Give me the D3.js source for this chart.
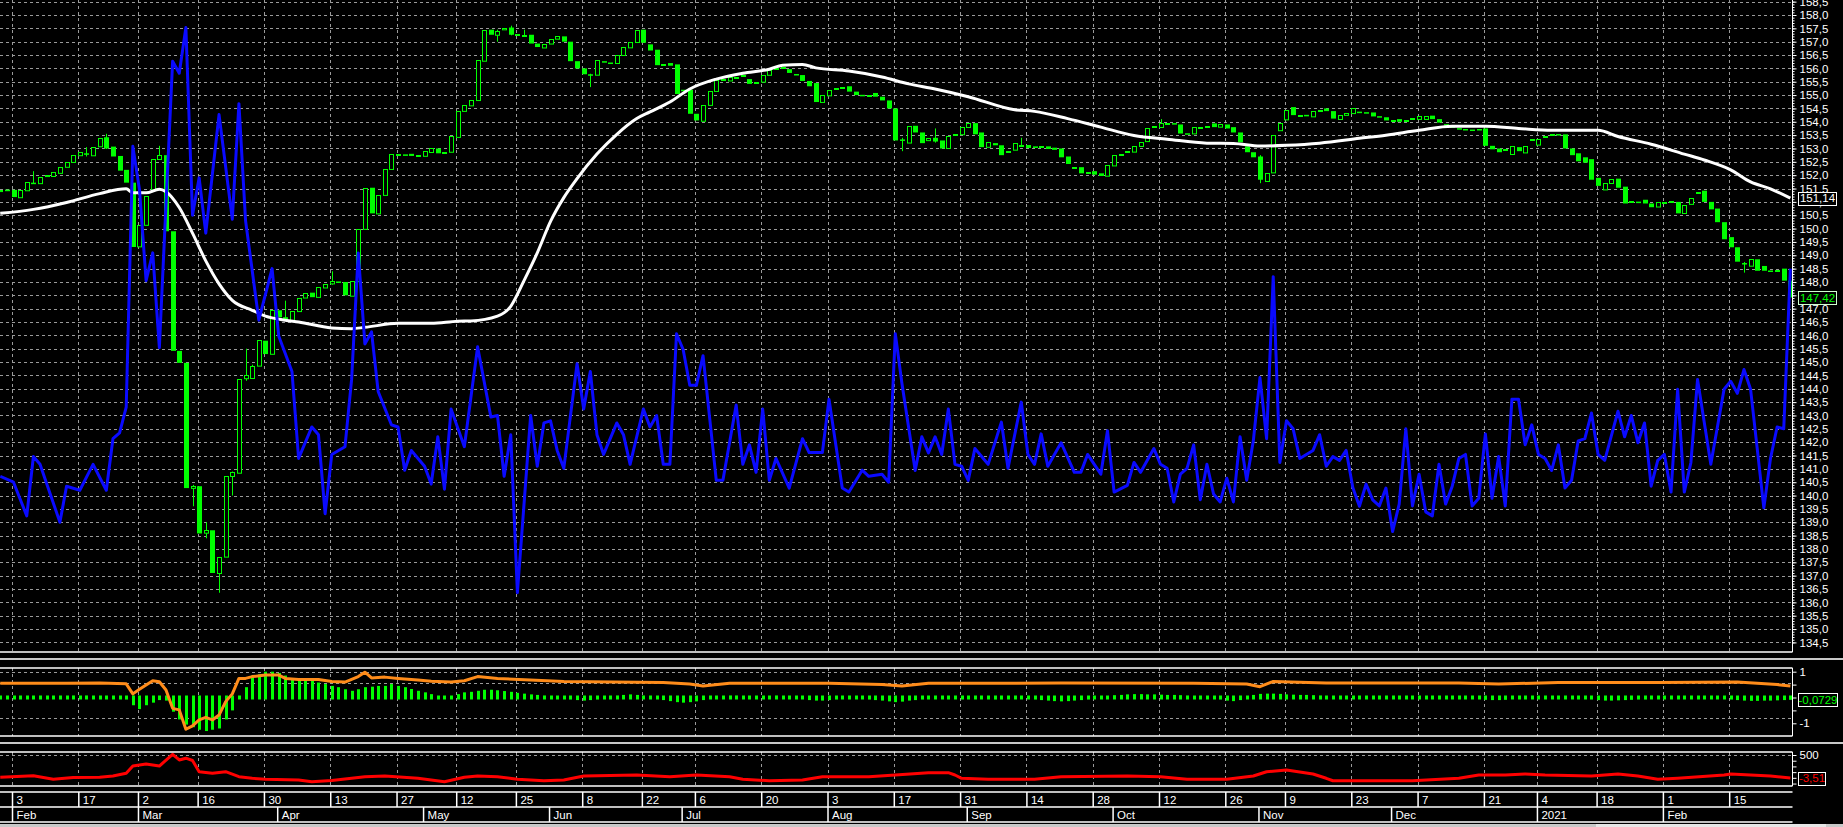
<!DOCTYPE html>
<html><head><meta charset="utf-8">
<script src="https://cdn.jsdelivr.net/npm/d3@7"></script>
<style>html,body{margin:0;padding:0;background:#000;overflow:hidden}</style>
</head><body>
<svg id="c" width="1843" height="827"></svg>
<script>
// ---------------- DATA ----------------
const opens = [151.42,151.46,151.45,151.18,151.45,151.72,151.70,151.96,151.98,152.10,
152.32,152.50,152.76,152.82,152.76,153.07,153.42,153.07,152.72,152.20,
151.72,149.35,150.15,151.46,152.60,152.75,149.90,145.42,144.97,140.28,
140.35,138.60,138.70,137.10,137.70,140.72,140.87,144.38,144.42,144.87,
145.80,145.30,146.94,146.68,146.55,146.90,147.43,147.60,147.43,147.80,
147.93,148.02,148.00,147.50,148.05,150.00,151.53,150.57,151.26,152.23,
152.79,152.78,152.80,152.72,152.72,152.85,153.00,152.84,152.86,153.45,
154.42,154.60,154.80,156.30,157.45,157.26,157.45,157.53,157.26,157.25,
157.26,156.93,156.80,156.93,157.10,157.20,157.00,156.27,156.00,155.78,
155.75,156.27,156.22,156.20,156.50,156.80,157.00,157.45,156.90,156.70,
156.14,156.20,156.15,155.20,155.20,154.30,154.05,154.64,155.16,155.58,
155.55,155.68,155.74,155.60,155.48,155.50,155.75,155.98,156.04,155.97,
155.79,155.75,155.53,155.45,154.74,155.00,155.27,155.29,155.33,155.13,
155.01,154.99,155.08,154.94,154.80,154.50,153.34,153.23,153.85,153.60,
153.30,153.40,153.30,153.00,153.52,153.53,153.80,153.95,153.60,153.05,
153.20,153.12,152.89,152.95,153.12,153.13,153.08,153.07,153.08,153.03,
153.00,152.70,152.29,152.30,152.11,152.15,152.07,151.97,152.37,152.79,
152.89,152.87,153.08,153.26,153.84,153.82,153.93,153.95,153.90,153.57,
153.56,153.79,153.84,153.94,153.80,153.90,153.80,153.60,153.08,152.86,
152.70,151.80,152.10,153.70,154.10,154.55,154.26,154.26,154.20,154.44,
154.50,154.40,154.12,154.27,154.34,154.38,154.36,154.35,154.21,154.17,
154.06,154.10,154.04,154.14,154.12,154.12,154.23,154.10,153.91,153.83,
153.76,153.73,153.71,153.73,153.75,153.10,153.00,152.96,152.80,153.05,
152.86,153.36,153.16,153.44,153.52,153.54,153.53,153.00,152.82,152.67,
152.60,151.90,151.48,151.72,151.87,151.57,151.03,151.01,151.08,150.94,
150.83,150.99,151.03,151.00,150.60,150.94,151.37,151.42,151.00,150.75,
150.24,149.68,149.30,148.71,148.60,148.85,148.60,148.43,148.44,148.50,
148.05];
const closes = [151.46,151.40,151.18,151.45,151.76,151.70,151.93,152.00,152.13,152.32,
152.50,152.76,152.88,152.80,153.07,153.38,153.00,152.70,152.17,151.72,
149.31,150.15,151.23,152.60,152.75,149.90,145.42,144.97,140.28,140.35,
138.58,138.70,137.10,137.70,140.72,140.87,144.38,144.50,144.87,145.83,
145.30,146.94,146.68,146.60,146.90,147.39,147.60,147.43,147.80,147.93,
148.02,147.99,147.50,148.05,150.00,151.53,150.57,151.26,152.23,152.79,
152.80,152.75,152.72,152.75,152.90,153.00,152.82,152.86,153.45,154.42,
154.64,154.80,156.30,157.45,157.26,157.40,157.50,157.26,157.27,157.26,
156.93,156.80,156.93,157.10,157.20,157.00,156.27,156.00,155.78,155.75,
156.30,156.24,156.20,156.50,156.80,157.00,157.45,156.96,156.67,156.12,
156.15,156.10,155.04,155.18,154.30,154.05,154.64,155.16,155.57,155.60,
155.68,155.69,155.75,155.42,155.50,155.75,155.93,156.00,156.05,155.83,
155.78,155.53,155.33,154.74,155.00,155.20,155.28,155.30,155.13,155.00,
155.00,155.00,154.94,154.80,154.50,153.30,153.33,153.85,153.60,153.20,
153.38,153.26,153.00,153.45,153.53,153.80,153.95,153.53,153.05,153.23,
153.12,152.75,152.90,153.20,153.13,153.02,153.02,153.08,152.98,152.95,
152.67,152.42,152.30,152.07,152.12,152.02,151.97,152.37,152.76,152.80,
152.90,153.08,153.23,153.75,153.85,153.97,153.94,153.94,153.56,153.56,
153.80,153.80,153.85,153.80,153.90,153.75,153.60,153.23,152.86,152.67,
151.83,152.10,153.50,153.97,154.45,154.25,154.27,154.25,154.40,154.45,
154.40,154.12,154.27,154.34,154.53,154.36,154.35,154.20,154.20,154.05,
154.07,154.00,154.05,154.15,154.23,154.23,154.10,153.97,153.90,153.82,
153.75,153.72,153.70,153.72,153.10,152.97,152.86,152.97,153.10,152.90,
153.10,153.37,153.37,153.45,153.53,153.53,153.00,152.75,152.52,152.47,
151.83,151.60,151.72,151.87,151.53,150.94,151.04,151.00,150.94,150.80,
151.00,151.00,151.04,150.57,150.90,151.16,151.38,151.00,150.72,150.24,
149.60,149.30,148.76,148.70,148.85,148.42,148.42,148.42,148.45,148.05,
147.42];
// visible wicks: bar index, high, low
const wickIdx  = [5, 13, 16, 24, 29, 31, 33, 35, 37, 38, 43, 50, 75, 77, 79, 89, 136, 141, 154, 175, 190, 263];
const wickHigh = [152.15,153.05,153.55,153.10,140.40,139.00,137.70,140.90,145.50,144.90,147.30,148.40,157.45,157.60,157.45,155.80,153.40,153.75,153.40,154.10,152.75,148.75];
const wickLow  = [151.68,152.70,152.98,152.58,139.60,138.40,136.36,140.00,144.30,144.55,146.55,147.90,157.00,157.24,157.22,155.30,152.90,153.22,153.10,153.80,151.70,148.35];

// moving average (white)
const maIdx = [0,5,10,15,19,20,22,24,25,27,29,31,33,35,38,40,43,45,50,53,55,60,65,69,71,75,77,79,81,83,85,87,90,93,96,98,101,104,108,112,116,118,121,123,128,133,137,141,146,153,156,161,166,171,176,182,186,190,194,199,205,209,214,219,224,229,234,241,244,249,254,257,261,264,267,270];
const maVal = [150.57,150.72,150.98,151.31,151.49,151.34,151.34,151.47,151.38,150.79,149.83,148.79,147.93,147.31,146.94,146.72,146.57,146.50,146.28,146.25,146.30,146.45,146.45,146.53,146.54,146.72,147.09,148.05,149.09,150.27,151.16,151.87,152.79,153.53,154.12,154.37,154.74,155.23,155.60,155.82,155.97,156.12,156.15,156.02,155.90,155.68,155.42,155.23,154.94,154.45,154.39,154.12,153.80,153.49,153.35,153.20,153.19,153.09,153.12,153.20,153.38,153.50,153.68,153.83,153.83,153.75,153.68,153.68,153.45,153.16,152.79,152.57,152.20,151.75,151.49,151.14];

// blue indicator (drawn on price scale)
const blueIdx = [0,2,4,5,6,9,10,12,14,16,17,18,19,20,21,22,23,24,26,27,28,29,30,31,33,35,36,37,39,41,42,43,44,45,47,48,49,50,52,53,54,55,56,57,59,60,61,62,64,65,66,67,68,70,72,74,75,76,77,78,80,81,82,83,84,85,87,88,89,90,91,93,94,95,97,98,99,100,101,102,103,104,105,106,108,109,111,112,113,114,115,116,117,119,121,122,124,125,127,128,130,131,133,134,135,136,137,138,139,140,141,142,143,144,145,146,147,149,151,152,154,155,156,157,158,160,162,163,164,166,167,168,170,171,172,174,175,176,177,178,179,180,181,182,183,184,185,186,187,188,189,190,191,192,193,194,195,196,198,199,200,201,202,203,204,205,206,207,208,209,210,211,212,213,214,215,216,217,218,219,220,221,222,223,224,225,226,227,228,229,230,231,232,233,234,235,236,237,238,239,240,241,242,244,245,246,247,248,249,250,251,252,253,254,255,256,258,260,261,262,263,264,266,267,268,269,270];
const blueVal = [140.72,140.50,139.24,141.46,141.17,139.00,140.35,140.20,141.17,140.20,142.13,142.35,143.31,153.08,151.46,148.05,149.09,145.54,156.27,155.82,157.53,150.50,151.90,149.83,154.27,150.35,154.68,150.30,146.57,148.50,145.98,145.31,144.65,141.39,142.57,142.28,139.32,141.54,141.83,144.36,149.09,145.68,146.13,143.90,142.65,142.57,140.95,141.69,141.10,140.43,142.20,140.24,143.24,141.83,145.57,142.94,143.00,140.72,142.28,136.36,143.00,141.10,142.72,142.80,141.69,141.02,144.94,143.24,144.65,142.28,141.54,142.72,142.28,141.17,143.24,142.57,143.00,141.17,141.17,146.06,145.47,144.13,144.13,145.24,140.57,140.57,143.39,141.17,141.90,140.87,143.24,140.57,141.39,140.28,142.13,141.61,141.61,143.61,140.28,140.13,140.95,140.72,140.80,140.50,146.06,144.20,142.57,140.94,142.20,141.60,142.20,141.54,143.24,141.17,141.10,140.57,141.76,141.17,142.75,141.02,143.50,141.54,141.17,142.31,141.10,141.98,140.87,140.87,141.54,140.80,142.43,140.13,140.38,141.24,140.87,141.76,141.17,141.02,139.76,140.80,141.02,141.90,139.84,141.17,140.06,139.76,140.65,139.76,142.20,140.57,142.05,144.42,142.13,148.20,141.24,142.80,142.50,141.39,141.69,142.28,141.10,141.46,141.32,141.69,140.30,139.60,140.43,139.84,139.61,140.28,138.65,139.68,142.50,139.61,140.80,139.39,139.24,141.17,139.68,140.35,141.39,141.54,139.61,139.90,142.31,139.90,141.46,139.61,143.61,143.61,141.90,142.65,141.54,141.39,140.94,141.90,140.28,140.57,142.05,142.13,143.09,141.54,141.32,143.16,142.20,143.00,141.98,142.72,140.35,141.32,141.54,140.13,143.98,140.13,141.24,144.35,141.17,143.98,144.28,143.83,144.72,143.98,139.54,141.39,142.57,142.50,148.50];

// oscillator panel: orange line (sparse vertices) + green histogram (one value per bar)
const oscIdx = [0,10,15,19,20,21,23,24,25,26,27,28,29,30,31,32,33,34,35,36,37,38,40,42,43,45,48,50,52,54,55,56,58,60,63,65,68,70,72,75,85,100,104,106,110,125,133,136,140,160,180,188,190,192,200,220,226,235,250,262,268,270];
const oscVal = [0.55,0.55,0.56,0.53,0.14,0.32,0.65,0.61,0.29,-0.42,-0.48,-1.23,-1.10,-0.87,-0.77,-0.87,-0.68,-0.16,0.14,0.74,0.74,0.81,0.87,0.87,0.74,0.70,0.70,0.62,0.60,0.81,0.98,0.76,0.79,0.74,0.68,0.63,0.60,0.65,0.81,0.74,0.62,0.58,0.52,0.45,0.55,0.55,0.50,0.45,0.55,0.56,0.55,0.52,0.42,0.62,0.56,0.56,0.52,0.58,0.58,0.60,0.50,0.45];
const histVal = [0.05,-0.04,0.05,0.06,-0.05,0.06,0.05,0.06,0.07,0.06,0.07,0.08,0.07,0.08,0.06,0.06,0.05,0.05,-0.04,-0.08,
-0.30,-0.45,-0.30,-0.20,-0.10,-0.12,-0.55,-0.85,-1.05,-1.15,-1.25,-1.30,-1.25,-1.20,-0.85,-0.50,0.05,0.40,0.85,0.90,
1.00,1.00,0.95,0.85,0.75,0.70,0.70,0.65,0.58,0.52,0.45,0.40,0.32,0.26,0.32,0.40,0.42,0.45,0.45,0.52,
0.45,0.40,0.33,0.26,0.20,0.13,0.05,0.05,0.05,0.13,0.20,0.22,0.26,0.30,0.30,0.28,0.25,0.22,0.18,0.15,
0.12,0.10,0.08,0.06,0.05,-0.05,-0.08,-0.10,-0.12,-0.10,-0.08,0.05,0.06,0.08,0.10,0.12,0.10,0.08,0.05,-0.06,
-0.10,-0.14,-0.18,-0.20,-0.18,-0.15,-0.10,-0.06,0.05,0.06,0.08,0.08,0.06,0.05,0.05,0.06,0.07,0.08,0.07,0.05,
-0.05,-0.07,-0.10,-0.12,-0.12,-0.10,-0.08,-0.06,-0.05,-0.05,-0.06,-0.08,-0.10,-0.12,-0.15,-0.18,-0.16,-0.12,-0.10,-0.08,
-0.06,-0.05,0.05,0.05,0.06,0.07,0.06,0.05,-0.05,-0.06,-0.08,-0.08,-0.07,-0.06,-0.06,-0.07,-0.08,-0.10,-0.12,-0.14,
-0.15,-0.14,-0.12,-0.10,-0.08,-0.06,0.05,0.07,0.09,0.10,0.12,0.13,0.13,0.12,0.12,0.11,0.10,0.10,0.09,0.08,
0.06,0.05,0.05,-0.05,-0.08,-0.12,-0.14,-0.10,0.06,0.10,0.14,0.15,0.15,0.14,0.12,0.11,0.10,0.10,0.09,0.08,
0.07,0.06,0.06,0.05,0.05,0.05,0.05,0.06,0.06,0.05,0.05,0.05,0.05,0.06,0.06,0.06,0.05,0.05,0.05,0.05,
0.05,0.05,-0.05,-0.07,-0.09,-0.10,-0.10,-0.09,-0.07,-0.05,-0.05,0.05,0.05,0.05,0.05,0.05,0.05,0.05,-0.05,-0.06,
-0.08,-0.10,-0.12,-0.12,-0.11,-0.10,-0.09,-0.08,-0.08,-0.07,-0.07,-0.06,-0.05,0.05,0.05,0.05,0.06,0.07,0.07,0.06,
-0.06,-0.08,-0.10,-0.12,-0.13,-0.13,-0.12,-0.12,-0.11,-0.10,-0.09];

// third panel: red line
const redIdx = [0,5,8,11,15,17,19,20,22,24,26,27,28,29,30,32,34,36,38,40,45,47,50,55,58,63,67,70,72,75,78,82,85,88,96,101,105,110,112,116,121,124,131,135,140,143,144,145,149,156,160,170,175,179,185,189,191,194,198,200,201,213,220,223,227,230,233,240,244,247,250,253,260,261,267,270];
const redVal = [12,47,-32,10,12,40,99,259,303,259,515,391,430,380,134,99,134,25,-10,-32,-47,-84,-60,25,40,-10,-84,12,40,25,-32,-63,-47,40,62,25,62,25,-32,-63,-47,25,25,62,113,113,62,-10,-32,-32,25,40,25,-32,-32,40,134,172,84,-10,-63,-63,-10,62,62,84,62,40,84,40,-32,-10,62,84,40,-3.51];

// axis labels
const priceTicks = [158.5,158.0,157.5,157.0,156.5,156.0,155.5,155.0,154.5,154.0,153.5,153.0,152.5,152.0,151.5,151.0,150.5,150.0,149.5,149.0,148.5,148.0,147.5,147.0,146.5,146.0,145.5,145.0,144.5,144.0,143.5,143.0,142.5,142.0,141.5,141.0,140.5,140.0,139.5,139.0,138.5,138.0,137.5,137.0,136.5,136.0,135.5,135.0,134.5];
const dayTickIdx = [2,12,21,30,40,50,60,69,78,88,97,105,115,125,135,145,155,165,175,185,194,204,214,224,232,241,251,261];
const dayTickLabel = ["3","17","2","16","30","13","27","12","25","8","22","6","20","3","17","31","14","28","12","26","9","23","7","21","4","18","1","15"];
const monthIdx = [2,21,42,64,83,103,125,146,168,190,210,232,251];
const monthLabel = ["Feb","Mar","Apr","May","Jun","Jul","Aug","Sep","Oct","Nov","Dec","2021","Feb"];
const oscTicks = [1,0.5,0,-0.5,-1];
const oscLevels = [1,0.55,-0.78];
const redTicks = [500,375,250,125,0,-125];

// ---------------- LAYOUT ----------------
const W = 1843, H = 827, AX = 1792;
const P1 = {top:0, bot:652}, P2 = {top:668, bot:736}, P3 = {top:752, bot:786};
const FONT = "'Liberation Sans', Arial, sans-serif";
const GRID = "#9a9a9a", GREEN = "#00ff00";

const svg = d3.select("#c");
svg.append("rect").attr("width",W).attr("height",H).attr("fill","#000");

const x  = d3.scaleLinear().domain([2,261]).range([13.5,1730.7]);
const yP = d3.scaleLinear().domain([158,134.5]).range([15,642.4]);
const yO = d3.scaleLinear().domain([1,-1]).range([671.7,723.3]);
const yR = d3.scaleLinear().domain([500,-3.51]).range([755,778]);

const defs = svg.append("defs");
[["c1",P1],["c2",P2],["c3",P3]].forEach(([id,p])=>{
  defs.append("clipPath").attr("id",id).append("rect")
    .attr("x",0).attr("y",p.top).attr("width",AX).attr("height",p.bot-p.top);
});

// vertical grid lines in each panel
[P1,P2,P3].forEach(p=>{
  svg.append("g").selectAll("line").data(dayTickIdx).join("line")
    .attr("x1",d=>Math.round(x(d)-1.5)+0.5).attr("x2",d=>Math.round(x(d)-1.5)+0.5)
    .attr("y1",p.top).attr("y2",p.bot)
    .attr("stroke",GRID).attr("stroke-width",1).attr("stroke-dasharray","3,3");
});
// horizontal grid main
svg.append("g").selectAll("line").data(priceTicks).join("line")
  .attr("x1",0).attr("x2",AX).attr("y1",d=>Math.round(yP(d))+0.5).attr("y2",d=>Math.round(yP(d))+0.5)
  .attr("stroke",GRID).attr("stroke-dasharray","3,3");
// levels in osc panel
svg.append("g").selectAll("line").data(oscLevels).join("line")
  .attr("x1",0).attr("x2",AX).attr("y1",d=>Math.round(yO(d))+0.5).attr("y2",d=>Math.round(yO(d))+0.5)
  .attr("stroke",GRID).attr("stroke-dasharray","3,3");
svg.append("line").attr("x1",0).attr("x2",AX).attr("y1",Math.round(yR(500))+0.5).attr("y2",Math.round(yR(500))+0.5)
  .attr("stroke",GRID).attr("stroke-dasharray","3,3");

// ---------------- CANDLES ----------------
const bars = opens.map((o,i)=>({i,o,c:closes[i]}));
const gMain = svg.append("g").attr("clip-path","url(#c1)");
const wicks = wickIdx.map((idx,k)=>({i:idx,h:wickHigh[k],l:wickLow[k]}));
gMain.append("g").selectAll("line").data(wicks).join("line")
  .attr("x1",d=>Math.round(x(d.i))+0.5).attr("x2",d=>Math.round(x(d.i))+0.5)
  .attr("y1",d=>yP(d.h)).attr("y2",d=>yP(d.l))
  .attr("stroke",GREEN).attr("stroke-width",1);
gMain.append("g").selectAll("rect").data(bars).join("rect")
  .attr("x",d=>Math.round(x(d.i))-2+ (d.c>=d.o?0.5:0))
  .attr("width",d=>d.c>=d.o?4:5)
  .attr("y",d=>{const t=yP(Math.max(d.o,d.c)); return d.c>=d.o? Math.round(t)+0.5 : t;})
  .attr("height",d=>Math.max(d.c>=d.o?1:1.5, Math.abs(yP(d.o)-yP(d.c))))
  .attr("fill",d=>d.c>=d.o?"#000":GREEN)
  .attr("stroke",d=>d.c>=d.o?GREEN:"none").attr("stroke-width",1);

// MA line
const maPts = maIdx.map((d,k)=>[d,maVal[k]]);
gMain.append("path").datum(maPts)
  .attr("d",d3.line().x(d=>x(d[0])).y(d=>yP(d[1])).curve(d3.curveMonotoneX))
  .attr("fill","none").attr("stroke","#fff").attr("stroke-width",3);
// blue line
const bluePts = blueIdx.map((d,k)=>[d,blueVal[k]]);
gMain.append("path").datum(bluePts)
  .attr("d",d3.line().x(d=>x(d[0])).y(d=>yP(d[1])))
  .attr("fill","none").attr("stroke","#0a0aff").attr("stroke-width",3).attr("stroke-linejoin","round");

// ---------------- OSC PANEL ----------------
const gO = svg.append("g").attr("clip-path","url(#c2)");
const y0 = yO(0);
gO.append("g").selectAll("rect").data(histVal.map((v,i)=>({i,v}))).join("rect")
  .attr("x",d=>Math.round(x(d.i))-1).attr("width",3)
  .attr("y",d=>Math.min(yO(d.v), y0-2))
  .attr("height",d=>Math.max(yO(d.v), y0+2)-Math.min(yO(d.v), y0-2))
  .attr("fill",GREEN);
const oscPts = oscIdx.map((d,k)=>[d,oscVal[k]]);
gO.append("path").datum(oscPts)
  .attr("d",d3.line().x(d=>x(d[0])).y(d=>yO(d[1])))
  .attr("fill","none").attr("stroke","#ff8c1a").attr("stroke-width",3).attr("stroke-linejoin","round");

// ---------------- RED PANEL ----------------
const gR = svg.append("g").attr("clip-path","url(#c3)");
const redPts = redIdx.map((d,k)=>[d,redVal[k]]);
gR.append("path").datum(redPts)
  .attr("d",d3.line().x(d=>x(d[0])).y(d=>yR(d[1])))
  .attr("fill","none").attr("stroke","#ff0000").attr("stroke-width",3).attr("stroke-linejoin","round");

// ---------------- FRAMES ----------------
function hline(y,x1,x2,col,w){svg.append("line").attr("x1",x1).attr("x2",x2).attr("y1",y).attr("y2",y).attr("stroke",col).attr("stroke-width",w);}
function vline(xx,y1,y2,col,w){svg.append("line").attr("x1",xx).attr("x2",xx).attr("y1",y1).attr("y2",y2).attr("stroke",col).attr("stroke-width",w);}
hline(652,0,AX+0.5,"#fff",1.5);
svg.append("rect").attr("x",0).attr("y",658).attr("width",W).attr("height",2).attr("fill","#c8c8c8");
hline(668,0,AX+0.5,"#fff",1.5); hline(736,0,AX+0.5,"#fff",1.5);
svg.append("rect").attr("x",0).attr("y",742).attr("width",W).attr("height",2).attr("fill","#c8c8c8");
hline(752,0,AX+0.5,"#fff",1.5); hline(786,0,AX+0.5,"#fff",1.5);
vline(AX+0.5,0,652,"#fff",1); vline(AX+0.5,668,736,"#fff",1); vline(AX+0.5,752,786,"#fff",1);
hline(792,0,AX+0.5,"#fff",1.5); hline(807,0,AX+0.5,"#fff",1.5); hline(822,0,AX+0.5,"#fff",1.5);
svg.append("rect").attr("x",0).attr("y",824).attr("width",W).attr("height",3).attr("fill","#c8c8c8");
svg.append("rect").attr("x",1596).attr("y",824).attr("width",230).attr("height",3).attr("fill","#e6e6e6");

// ---------------- AXES ----------------
function styleAxis(g){
  g.select(".domain").remove();
  g.selectAll("line").attr("stroke","#fff");
  g.selectAll("text").attr("fill","#fff").style("font-family",FONT).style("font-size","11.5px");
}
const fmt = d=>d.toFixed(1).replace(".",",");
const minor = d3.range(1345,1586).map(v=>v/10);
svg.append("g").attr("transform",`translate(${AX+0.5},0)`).call(d3.axisRight(yP).tickValues(minor).tickSize(2).tickFormat("")).call(styleAxis);
svg.append("g").attr("transform",`translate(${AX+0.5},0)`).call(d3.axisRight(yP).tickValues(priceTicks).tickSize(4).tickSizeOuter(0).tickPadding(3).tickFormat(fmt)).call(styleAxis);
svg.append("g").attr("transform",`translate(${AX+0.5},0)`).call(d3.axisRight(yO).tickValues(oscTicks).tickSize(4).tickPadding(3).tickFormat(d=>d===1?"1":d===-1?"-1":"")).call(styleAxis);
svg.append("g").attr("transform",`translate(${AX+0.5},0)`).call(d3.axisRight(yR).tickValues(redTicks).tickSize(4).tickPadding(3).tickFormat(d=>d===500?"500":"")).call(styleAxis);

// value boxes
function fmt2(v){return v.toFixed(2).replace(".",",");}
function box(yc,txt,col,border,w){
  svg.append("rect").attr("x",1798.5).attr("y",Math.round(yc-6.5)+0.5).attr("width",w).attr("height",13)
    .attr("fill","#000").attr("stroke",border).attr("stroke-width",1);
  svg.append("text").attr("x",1798.5+w/2).attr("y",yc+4.2).attr("text-anchor","middle")
    .attr("fill",col).style("font-family",FONT).style("font-size","11.5px").text(txt);
}
box(yP(maVal[maVal.length-1]), fmt2(maVal[maVal.length-1]), "#fff", "#fff", 38);
box(yP(closes[closes.length-1]), fmt2(closes[closes.length-1]), GREEN, "#d0ffd0", 38);
box(yO(-0.0729), "-0,0729", GREEN, "#fff", 39);
box(yR(-3.51), "-3,51", "#ff0000", "#fff", 27);

// date axis (two rows)
const gd = svg.append("g").attr("transform","translate(-1.5,792)")
  .call(d3.axisBottom(x).tickValues(dayTickIdx).tickSize(15).tickSizeOuter(0).tickFormat((d,i)=>dayTickLabel[i]));
gd.select(".domain").remove();
gd.selectAll("line").attr("stroke","#fff").attr("stroke-width",1.5);
gd.selectAll("text").attr("fill","#fff").attr("text-anchor","start").attr("x",4).attr("y",12).attr("dy",0)
  .style("font-family",FONT).style("font-size","11.5px");
const gm = svg.append("g").attr("transform","translate(-1.5,807)")
  .call(d3.axisBottom(x).tickValues(monthIdx).tickSize(15).tickSizeOuter(0).tickFormat((d,i)=>monthLabel[i]));
gm.select(".domain").remove();
gm.selectAll("line").attr("stroke","#fff").attr("stroke-width",1.5);
gm.selectAll("text").attr("fill","#fff").attr("text-anchor","start").attr("x",4).attr("y",12).attr("dy",0)
  .style("font-family",FONT).style("font-size","11.5px");
</script>
</body></html>
